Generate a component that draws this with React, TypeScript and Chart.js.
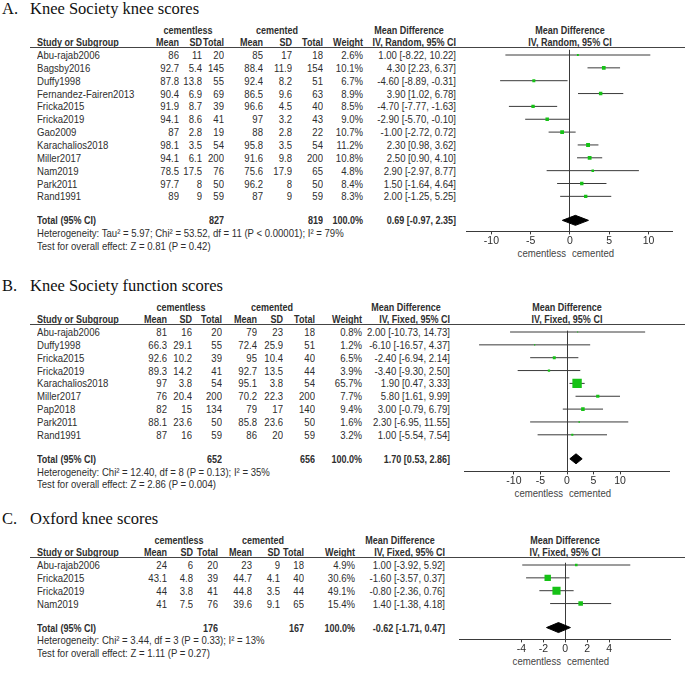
import React, { useEffect, useRef } from 'react';
import { Chart, registerables } from 'chart.js';

Chart.register(...registerables);

// ---------------- Panel A data: Knee Society knee scores ----------------
const studiesA = ['Abu-rajab2006', 'Bagsby2016', 'Duffy1998', 'Fernandez-Fairen2013', 'Fricka2015', 'Fricka2019', 'Gao2009', 'Karachalios2018', 'Miller2017', 'Nam2019', 'Park2011', 'Rand1991'];
const clMeanA = [86, 92.7, 87.8, 90.4, 91.9, 94.1, 87, 98.1, 94.1, 78.5, 97.7, 89];
const clSdA = [11, 5.4, 13.8, 6.9, 8.7, 8.6, 2.8, 3.5, 6.1, 17.5, 8, 9];
const clNA = [20, 145, 55, 69, 39, 41, 19, 54, 200, 76, 50, 59];
const cmMeanA = [85, 88.4, 92.4, 86.5, 96.6, 97, 88, 95.8, 91.6, 75.6, 96.2, 87];
const cmSdA = [17, 11.9, 8.2, 9.6, 4.5, 3.2, 2.8, 3.5, 9.8, 17.9, 8, 9];
const cmNA = [18, 154, 51, 63, 40, 43, 22, 54, 200, 65, 50, 59];
const weightA = [2.6, 10.1, 6.7, 8.9, 8.5, 9.0, 10.7, 11.2, 10.8, 4.8, 8.4, 8.3];
const mdA = [1.0, 4.3, -4.6, 3.9, -4.7, -2.9, -1.0, 2.3, 2.5, 2.9, 1.5, 2.0];
const loA = [-8.22, 2.23, -8.89, 1.02, -7.77, -5.7, -2.72, 0.98, 0.9, -2.97, -1.64, -1.25];
const hiA = [10.22, 6.37, -0.31, 6.78, -1.63, -0.1, 0.72, 3.62, 4.1, 8.77, 4.64, 5.25];
const totalNA = [827, 819];
const totalA = [0.69, -0.97, 2.35];
const ticksA = [-10, -5, 0, 5, 10];
const hetA = 'Heterogeneity: Tau\u00b2 = 5.97; Chi\u00b2 = 53.52, df = 11 (P < 0.00001); I\u00b2 = 79%';
const testA = 'Test for overall effect: Z = 0.81 (P = 0.42)';

// ---------------- Panel B data: Knee Society function scores ----------------
const studiesB = ['Abu-rajab2006', 'Duffy1998', 'Fricka2015', 'Fricka2019', 'Karachalios2018', 'Miller2017', 'Pap2018', 'Park2011', 'Rand1991'];
const clMeanB = [81, 66.3, 92.6, 89.3, 97, 76, 82, 88.1, 87];
const clSdB = [16, 29.1, 10.2, 14.2, 3.8, 20.4, 15, 23.6, 16];
const clNB = [20, 55, 39, 41, 54, 200, 134, 50, 59];
const cmMeanB = [79, 72.4, 95, 92.7, 95.1, 70.2, 79, 85.8, 86];
const cmSdB = [23, 25.9, 10.4, 13.5, 3.8, 22.3, 17, 23.6, 20];
const cmNB = [18, 51, 40, 44, 54, 200, 140, 50, 59];
const weightB = [0.8, 1.2, 6.5, 3.9, 65.7, 7.7, 9.4, 1.6, 3.2];
const mdB = [2.0, -6.1, -2.4, -3.4, 1.9, 5.8, 3.0, 2.3, 1.0];
const loB = [-10.73, -16.57, -6.94, -9.3, 0.47, 1.61, -0.79, -6.95, -5.54];
const hiB = [14.73, 4.37, 2.14, 2.5, 3.33, 9.99, 6.79, 11.55, 7.54];
const totalNB = [652, 656];
const totalB = [1.7, 0.53, 2.86];
const ticksB = [-10, -5, 0, 5, 10];
const hetB = 'Heterogeneity: Chi\u00b2 = 12.40, df = 8 (P = 0.13); I\u00b2 = 35%';
const testB = 'Test for overall effect: Z = 2.86 (P = 0.004)';

// ---------------- Panel C data: Oxford knee scores ----------------
const studiesC = ['Abu-rajab2006', 'Fricka2015', 'Fricka2019', 'Nam2019'];
const clMeanC = [24, 43.1, 44, 41];
const clSdC = [6, 4.8, 3.8, 7.5];
const clNC = [20, 39, 41, 76];
const cmMeanC = [23, 44.7, 44.8, 39.6];
const cmSdC = [9, 4.1, 3.5, 9.1];
const cmNC = [18, 40, 44, 65];
const weightC = [4.9, 30.6, 49.1, 15.4];
const mdC = [1.0, -1.6, -0.8, 1.4];
const loC = [-3.92, -3.57, -2.36, -1.38];
const hiC = [5.92, 0.37, 0.76, 4.18];
const totalNC = [176, 167];
const totalC = [-0.62, -1.71, 0.47];
const ticksC = [-4, -2, 0, 2, 4];
const hetC = 'Heterogeneity: Chi\u00b2 = 3.44, df = 3 (P = 0.33); I\u00b2 = 13%';
const testC = 'Test for overall effect: Z = 1.11 (P = 0.27)';

// ---------------- styling / layout constants ----------------
const FONT = '"Liberation Sans", Arial, Helvetica, sans-serif';
const SERIF = '"Liberation Serif", "Times New Roman", Times, serif';
const INK = '#2e2e2e';
const LINE = '#3a3a3a';
const GREEN = 'rgb(22,194,22)';
const ROW_STEP = 12.85;
const FIRST_ROW_Y = 55;
const TOTAL_GAP = 24;
const LINE_GAP = 12.7;
const UNDERLINE_Y = 47;
const AXIS_H = 15;
const SQUARE_K = 1.16;
const DIAMOND_HALF = 5;
const TEXT_SIZE = 11;
const SCALE_REG = 0.87;
const SCALE_BOLD = 0.82;

type PanelSpec = {
  letter: string; title: string; method: string;
  studies: string[]; clMean: number[]; clSd: number[]; clN: number[];
  cmMean: number[]; cmSd: number[]; cmN: number[];
  weight: number[]; md: number[]; lo: number[]; hi: number[];
  totalN: number[]; total: number[]; ticks: number[]; het: string; test: string;
  off: number; cols: number[]; groupX: number[]; mdX: number;
  zero: number; ppu: number; xmax: number; axisGap: number;
};

const panels: PanelSpec[] = [
  {
    letter: 'A.', title: 'Knee Society knee scores', method: 'IV, Random, 95% CI',
    studies: studiesA, clMean: clMeanA, clSd: clSdA, clN: clNA, cmMean: cmMeanA, cmSd: cmSdA, cmN: cmNA,
    weight: weightA, md: mdA, lo: loA, hi: hiA, totalN: totalNA, total: totalA, ticks: ticksA, het: hetA, test: testA,
    off: 0, cols: [179, 202, 224, 263, 292, 323, 363, 456], groupX: [188, 277], mdX: 409,
    zero: 570, ppu: 8.07, xmax: 13.1, axisGap: 11.7,
  },
  {
    letter: 'B.', title: 'Knee Society function scores', method: 'IV, Fixed, 95% CI',
    studies: studiesB, clMean: clMeanB, clSd: clSdB, clN: clNB, cmMean: cmMeanB, cmSd: cmSdB, cmN: cmNB,
    weight: weightB, md: mdB, lo: loB, hi: hiB, totalN: totalNB, total: totalB, ticks: ticksB, het: hetB, test: testB,
    off: 277, cols: [167, 192, 222, 257, 283, 315, 362, 450], groupX: [181, 272], mdX: 406,
    zero: 567, ppu: 5.65, xmax: 19.25, axisGap: 13.4,
  },
  {
    letter: 'C.', title: 'Oxford knee scores', method: 'IV, Fixed, 95% CI',
    studies: studiesC, clMean: clMeanC, clSd: clSdC, clN: clNC, cmMean: cmMeanC, cmSd: cmSdC, cmN: cmNC,
    weight: weightC, md: mdC, lo: loC, hi: hiC, totalN: totalNC, total: totalC, ticks: ticksC, het: hetC, test: testC,
    off: 510, cols: [167, 193, 218, 252, 280, 304, 355, 445], groupX: [178.5, 263], mdX: 400,
    zero: 565.3, ppu: 11.58, xmax: 9.6, axisGap: 12.5,
  },
];

const ci = (m: number, l: number, h: number) => `${m.toFixed(2)} [${l.toFixed(2)}, ${h.toFixed(2)}]`;

function T(props: { x: number; y: number; a?: 'left' | 'right' | 'center'; b?: boolean; c?: string; children: React.ReactNode }) {
  const { x, y, a = 'left', b = false, c = INK, children } = props;
  const k = b ? SCALE_BOLD : SCALE_REG;
  const style: React.CSSProperties = {
    position: 'absolute', top: y - 6, height: 12, lineHeight: '12px', fontSize: TEXT_SIZE,
    fontFamily: FONT, fontWeight: b ? 'bold' : 'normal', color: c, whiteSpace: 'nowrap',
    transform: `scaleX(${k})`,
  };
  if (a === 'left') { style.left = x; style.transformOrigin = 'left center'; }
  else if (a === 'right') { style.left = x - 300; style.width = 300; style.textAlign = 'right'; style.transformOrigin = 'right center'; }
  else { style.left = x - 150; style.width = 300; style.textAlign = 'center'; style.transformOrigin = 'center center'; }
  return <div style={style}>{children}</div>;
}

function geometry(p: PanelSpec) {
  const n = p.studies.length;
  const firstY = p.off + FIRST_ROW_Y;
  const totalV = n - 1 + TOTAL_GAP / ROW_STEP;
  const totalY = firstY + totalV * ROW_STEP;
  const axisY = totalY + p.axisGap;
  const left = Math.round(p.zero - p.xmax * p.ppu);
  const width = Math.round(2 * p.xmax * p.ppu);
  const top = Math.round(p.off + UNDERLINE_Y);
  const height = Math.round(axisY - top) + AXIS_H;
  return { n, firstY, totalV, totalY, axisY, left, width, top, height };
}

function Forest({ p }: { p: PanelSpec }) {
  const ref = useRef<HTMLCanvasElement | null>(null);
  const g = geometry(p);
  useEffect(() => {
    const canvas = ref.current;
    if (!canvas) return;
    const xMin = (g.left - p.zero) / p.ppu;
    const xMax = (g.left + g.width - p.zero) / p.ppu;
    const squares = p.md.map((m, i) => ({ x: m, y: i }));
    const ciPts: { x: number; y: number }[] = [];
    p.lo.forEach((l, i) => {
      ciPts.push({ x: l, y: i }, { x: p.hi[i], y: i }, { x: NaN, y: NaN });
    });
    const h = DIAMOND_HALF / ROW_STEP;
    const [tm, tl, th] = p.total;
    const diamond = [
      { x: tl, y: g.totalV }, { x: tm, y: g.totalV - h }, { x: th, y: g.totalV },
      { x: tm, y: g.totalV + h }, { x: tl, y: g.totalV },
    ];
    const ticks = p.ticks;
    const canvasTop = g.top;
    const firstY = g.firstY;
    const radii = p.weight.map((w) => Math.max(0.7, (SQUARE_K * Math.sqrt(w)) / Math.SQRT2));
    const chart = new Chart(canvas, {
      type: 'scatter',
      data: {
        datasets: [
          {
            type: 'scatter', data: squares, pointStyle: 'rect',
            pointRadius: radii, pointHoverRadius: radii,
            backgroundColor: GREEN, borderWidth: 0,
          } as any,
          {
            type: 'line', data: ciPts, borderColor: LINE, borderWidth: 1, pointRadius: 0,
            pointHoverRadius: 0, spanGaps: false, fill: false, tension: 0,
          } as any,
          {
            type: 'line', data: diamond, borderColor: '#000', backgroundColor: '#000', borderWidth: 1,
            pointRadius: 0, pointHoverRadius: 0, fill: 'shape', tension: 0,
          } as any,
        ],
      },
      options: {
        animation: false,
        responsive: false,
        events: [],
        layout: { padding: 0 },
        plugins: { legend: { display: false }, tooltip: { enabled: false } },
        scales: {
          x: {
            type: 'linear', min: xMin, max: xMax,
            afterBuildTicks: (s: any) => { s.ticks = ticks.map((v) => ({ value: v })); },
            grid: {
              color: (ctx: any) => (ctx.tick && ctx.tick.value === 0 ? LINE : 'rgba(0,0,0,0)'),
              tickColor: LINE, tickLength: 3, lineWidth: 1, drawTicks: true,
            },
            border: { display: true, color: LINE, width: 1 },
            ticks: { padding: 0, color: INK, font: { family: FONT, size: 10.5 }, maxRotation: 0, autoSkip: false },
          },
          y: { type: 'linear', display: false, reverse: true, min: 0, max: 20 },
        },
      } as any,
      plugins: [
        {
          id: 'rowAlign',
          afterLayout(c: any) {
            const y = c.scales.y;
            y.min = (canvasTop + y.top - firstY) / ROW_STEP;
            y.max = (canvasTop + y.bottom - firstY) / ROW_STEP;
            y.configure();
          },
        },
      ],
    });
    return () => chart.destroy();
  }, []);
  return (
    <canvas
      ref={ref}
      width={g.width}
      height={g.height}
      style={{ position: 'absolute', left: g.left, top: g.top, width: g.width, height: g.height, display: 'block' }}
    />
  );
}

function PanelView({ p }: { p: PanelSpec }) {
  const g = geometry(p);
  const o = p.off;
  const rowY = (i: number) => g.firstY + i * ROW_STEP;
  const hetY = g.totalY + LINE_GAP;
  const testY = hetY + LINE_GAP;
  const c = p.cols;
  const heads = ['Mean', 'SD', 'Total', 'Mean', 'SD', 'Total', 'Weight', p.method];
  const titleStyle: React.CSSProperties = {
    position: 'absolute', top: o + 15 - 15.6, height: 20, lineHeight: '20px', fontSize: 16.5,
    fontFamily: SERIF, color: '#111', whiteSpace: 'nowrap',
  };
  return (
    <>
      <div style={{ ...titleStyle, left: 2 }}>{p.letter}</div>
      <div style={{ ...titleStyle, left: 30 }}>{p.title}</div>
      <T x={p.groupX[0]} y={o + 29.5} a="center" b>cementless</T>
      <T x={p.groupX[1]} y={o + 29.5} a="center" b>cemented</T>
      <T x={p.mdX} y={o + 29.5} a="center" b>Mean Difference</T>
      <T x={p.zero} y={o + 29.5} a="center" b>Mean Difference</T>
      <T x={37} y={o + 42.3} b>Study or Subgroup</T>
      {heads.map((hd, k) => (
        <T key={'h' + k} x={c[k]} y={o + 42.3} a="right" b>{hd}</T>
      ))}
      <T x={p.zero} y={o + 42.3} a="center" b>{p.method}</T>
      <div style={{ position: 'absolute', left: 30, top: o + UNDERLINE_Y, width: 655, height: 1, background: '#444' }} />
      {p.studies.map((s, i) => {
        const y = rowY(i);
        const cells = [
          String(p.clMean[i]), String(p.clSd[i]), String(p.clN[i]),
          String(p.cmMean[i]), String(p.cmSd[i]), String(p.cmN[i]),
          p.weight[i].toFixed(1) + '%', ci(p.md[i], p.lo[i], p.hi[i]),
        ];
        return (
          <React.Fragment key={s + i}>
            <T x={37} y={y}>{s}</T>
            {cells.map((v, k) => (
              <T key={k} x={c[k]} y={y} a="right">{v}</T>
            ))}
          </React.Fragment>
        );
      })}
      <T x={37} y={g.totalY} b>Total (95% CI)</T>
      <T x={c[2]} y={g.totalY} a="right" b>{String(p.totalN[0])}</T>
      <T x={c[5]} y={g.totalY} a="right" b>{String(p.totalN[1])}</T>
      <T x={c[6]} y={g.totalY} a="right" b>100.0%</T>
      <T x={c[7]} y={g.totalY} a="right" b>{ci(p.total[0], p.total[1], p.total[2])}</T>
      <T x={37} y={hetY}>{p.het}</T>
      <T x={37} y={testY}>{p.test}</T>
      <T x={p.zero - 4} y={g.axisY + 20.7} a="right" c="#444">cementless</T>
      <T x={p.zero + 2} y={g.axisY + 20.7} c="#444">cemented</T>
      <Forest p={p} />
    </>
  );
}

export default function App() {
  return (
    <div style={{ position: 'absolute', left: 0, top: 0, width: 685, height: 676, overflow: 'hidden', background: '#fff' }}>
      {panels.map((p) => (
        <PanelView key={p.letter} p={p} />
      ))}
    </div>
  );
}
